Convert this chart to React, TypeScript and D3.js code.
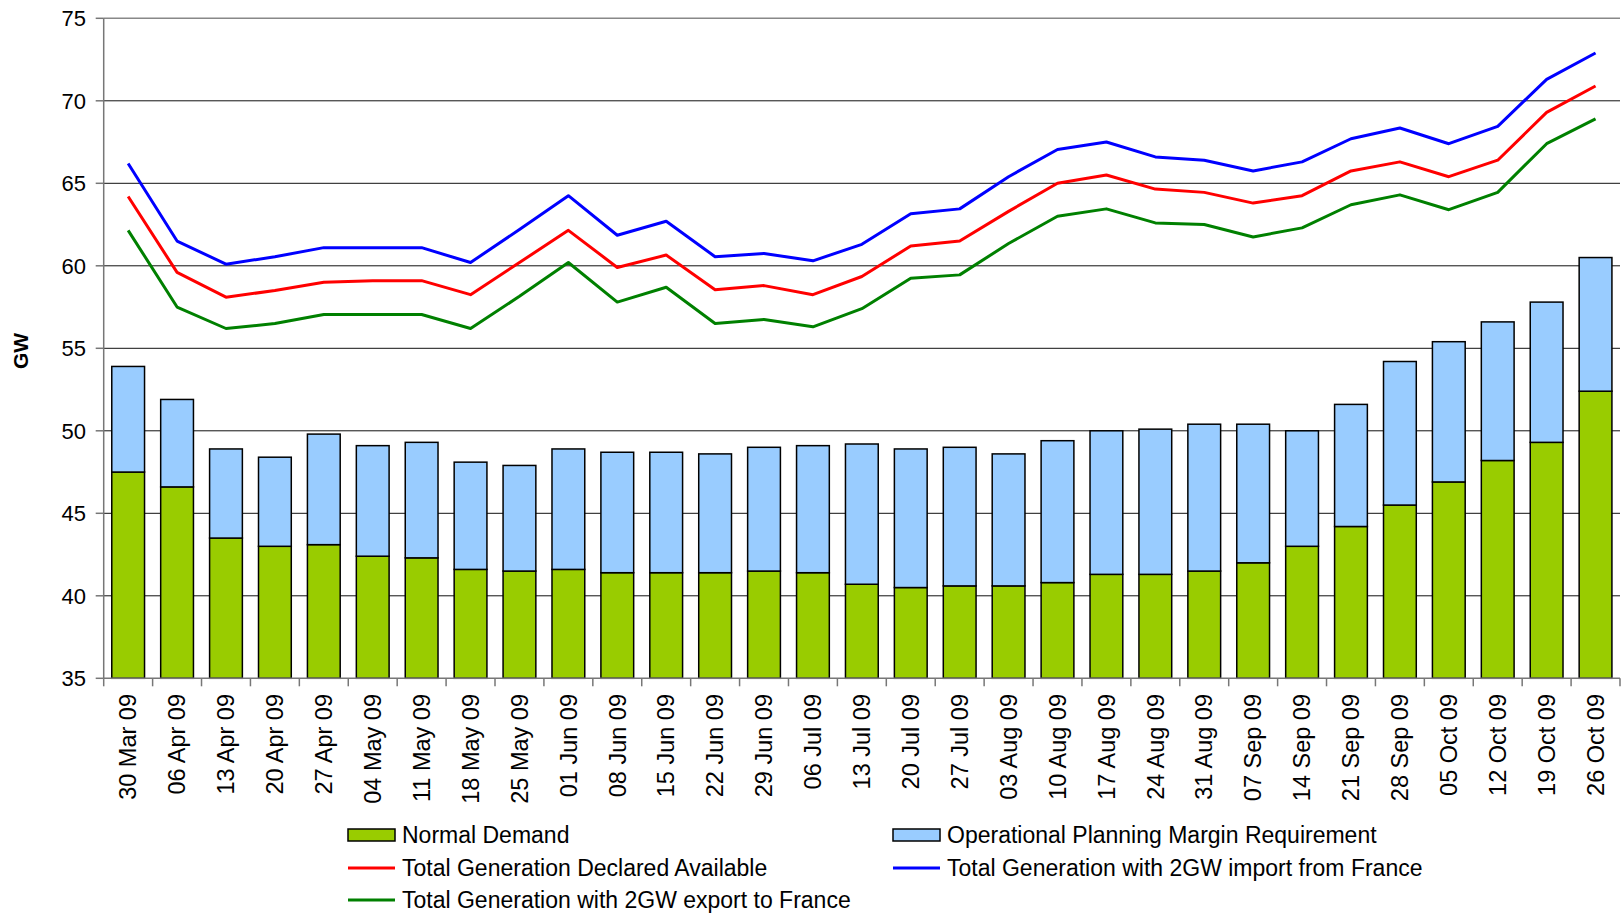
import * as d3 from "d3";
import { useEffect, useRef } from "react";

const categories = [
  "30 Mar 09", "06 Apr 09", "13 Apr 09", "20 Apr 09", "27 Apr 09", "04 May 09",
  "11 May 09", "18 May 09", "25 May 09", "01 Jun 09", "08 Jun 09", "15 Jun 09",
  "22 Jun 09", "29 Jun 09", "06 Jul 09", "13 Jul 09", "20 Jul 09", "27 Jul 09",
  "03 Aug 09", "10 Aug 09", "17 Aug 09", "24 Aug 09", "31 Aug 09", "07 Sep 09",
  "14 Sep 09", "21 Sep 09", "28 Sep 09", "05 Oct 09", "12 Oct 09", "19 Oct 09",
  "26 Oct 09",
];

const normalDemand = [
  47.5, 46.6, 43.5, 43.0, 43.1, 42.4, 42.3, 41.6, 41.5, 41.6, 41.4, 41.4, 41.4,
  41.5, 41.4, 40.7, 40.5, 40.6, 40.6, 40.8, 41.3, 41.3, 41.5, 42.0, 43.0, 44.2,
  45.5, 46.9, 48.2, 49.3, 52.4,
];

const planningMargin = [
  6.4, 5.3, 5.4, 5.4, 6.7, 6.7, 7.0, 6.5, 6.4, 7.3, 7.3, 7.3, 7.2, 7.5, 7.7,
  8.5, 8.4, 8.4, 8.0, 8.6, 8.7, 8.8, 8.9, 8.4, 7.0, 7.4, 8.7, 8.5, 8.4, 8.5, 8.1,
];

const declaredAvailable = [
  64.2, 59.6, 58.1, 58.5, 59.0, 59.1, 59.1, 58.25, 60.2, 62.15, 59.9, 60.65,
  58.55, 58.8, 58.25, 59.35, 61.2, 61.5, 63.3, 65.0, 65.5, 64.65, 64.45, 63.8,
  64.25, 65.75, 66.3, 65.4, 66.4, 69.3, 70.9,
];

const importFrance = [
  66.2, 61.5, 60.1, 60.55, 61.1, 61.1, 61.1, 60.2, 62.2, 64.25, 61.85, 62.7,
  60.55, 60.75, 60.3, 61.3, 63.15, 63.45, 65.4, 67.05, 67.5, 66.6, 66.4, 65.75,
  66.3, 67.7, 68.35, 67.4, 68.45, 71.3, 72.9,
];

const exportFrance = [
  62.15, 57.5, 56.2, 56.5, 57.05, 57.05, 57.05, 56.2, 58.15, 60.2, 57.8, 58.7,
  56.5, 56.75, 56.3, 57.4, 59.25, 59.45, 61.35, 63.0, 63.45, 62.6, 62.5, 61.75,
  62.3, 63.7, 64.3, 63.4, 64.45, 67.4, 68.9,
];

const yTicks = [35, 40, 45, 50, 55, 60, 65, 70, 75];

const FONT = "'Liberation Sans', Arial, sans-serif";

const App: React.FC = () => {
  const ref = useRef<HTMLDivElement | null>(null);

  useEffect(() => {
    if (!ref.current) return;
    d3.select(ref.current).selectAll("*").remove();

    const W = 1621;
    const H = 915;
    const left = 103.7;
    const right = 1620;
    const top = 18.3;
    const bottom = 678.3;

    const svg = d3
      .select(ref.current)
      .append("svg")
      .attr("width", W)
      .attr("height", H)
      .style("font-family", FONT);

    const x = d3
      .scaleBand<string>()
      .domain(categories)
      .range([left, right])
      .paddingInner(0.33)
      .paddingOuter(0.165);

    const y = d3.scaleLinear().domain([35, 75]).range([bottom, top]);

    const cx = (c: string) => (x(c) ?? 0) + x.bandwidth() / 2;
    const step = x.step();

    // grid lines
    svg
      .append("g")
      .selectAll("line")
      .data(yTicks.filter((t) => t > 35))
      .join("line")
      .attr("x1", left)
      .attr("x2", right)
      .attr("y1", (d) => y(d))
      .attr("y2", (d) => y(d))
      .attr("stroke", (d) => (d === 75 ? "#888" : "#111"))
      .attr("stroke-width", (d) => (d === 75 ? 1.5 : 1));

    // stacked bars
    const rows = categories.map((c, i) => ({
      cat: c,
      demand: normalDemand[i],
      margin: planningMargin[i],
    }));
    const stack = d3.stack<(typeof rows)[number]>().keys(["demand", "margin"]);
    const series = stack(rows);
    const fills = ["#99CC00", "#99CCFF"];

    series.forEach((s, k) => {
      svg
        .append("g")
        .selectAll("rect")
        .data(s)
        .join("rect")
        .attr("x", (d) => x(d.data.cat) ?? 0)
        .attr("width", x.bandwidth())
        .attr("y", (d) => y(Math.max(d[1], 35)))
        .attr("height", (d) => y(Math.max(d[0], 35)) - y(d[1]))
        .attr("fill", fills[k])
        .attr("stroke", "#000")
        .attr("stroke-width", 1.5);
    });

    // lines
    const lineSeries = [
      { values: exportFrance, color: "#008000" },
      { values: declaredAvailable, color: "#FF0000" },
      { values: importFrance, color: "#0000FF" },
    ];
    const line = d3
      .line<number>()
      .x((_, i) => cx(categories[i]))
      .y((d) => y(d));
    lineSeries.forEach((ls) => {
      svg
        .append("path")
        .datum(ls.values)
        .attr("fill", "none")
        .attr("stroke", ls.color)
        .attr("stroke-width", 3)
        .attr("stroke-linejoin", "round")
        .attr("d", line);
    });

    // axes
    svg
      .append("line")
      .attr("x1", left)
      .attr("x2", left)
      .attr("y1", top)
      .attr("y2", bottom)
      .attr("stroke", "#777")
      .attr("stroke-width", 1.5);
    svg
      .append("line")
      .attr("x1", left)
      .attr("x2", right)
      .attr("y1", bottom)
      .attr("y2", bottom)
      .attr("stroke", "#777")
      .attr("stroke-width", 1.5);

    // y ticks and labels
    const yAxis = svg.append("g");
    yAxis
      .selectAll("line")
      .data(yTicks)
      .join("line")
      .attr("x1", left - 8)
      .attr("x2", left)
      .attr("y1", (d) => y(d))
      .attr("y2", (d) => y(d))
      .attr("stroke", "#777")
      .attr("stroke-width", 1.5);
    yAxis
      .selectAll("text")
      .data(yTicks)
      .join("text")
      .attr("x", 86)
      .attr("y", (d) => y(d))
      .attr("dy", "0.35em")
      .attr("text-anchor", "end")
      .attr("font-size", 22)
      .attr("fill", "#000")
      .text((d) => d);

    // x ticks and labels
    const xAxis = svg.append("g");
    xAxis
      .selectAll("line")
      .data(d3.range(categories.length + 1))
      .join("line")
      .attr("x1", (i) => left + i * step)
      .attr("x2", (i) => left + i * step)
      .attr("y1", bottom)
      .attr("y2", bottom + 8)
      .attr("stroke", "#777")
      .attr("stroke-width", 1.5);
    xAxis
      .selectAll("text")
      .data(categories)
      .join("text")
      .attr("transform", (c) => `translate(${cx(c)},694) rotate(-90)`)
      .attr("dy", "0.35em")
      .attr("text-anchor", "end")
      .attr("font-size", 23.5)
      .attr("fill", "#000")
      .text((c) => c);

    // y title
    svg
      .append("text")
      .attr("transform", `translate(21,351) rotate(-90)`)
      .attr("dy", "0.35em")
      .attr("text-anchor", "middle")
      .attr("font-size", 21)
      .attr("font-weight", "bold")
      .text("GW");

    // legend
    const legendItems = [
      { label: "Normal Demand", kind: "rect", color: "#99CC00", lx: 348, ly: 835 },
      { label: "Operational Planning Margin Requirement", kind: "rect", color: "#99CCFF", lx: 893, ly: 835 },
      { label: "Total Generation Declared Available", kind: "line", color: "#FF0000", lx: 348, ly: 868 },
      { label: "Total Generation with 2GW import from France", kind: "line", color: "#0000FF", lx: 893, ly: 868 },
      { label: "Total Generation with 2GW export to France", kind: "line", color: "#008000", lx: 348, ly: 900 },
    ];
    const lg = svg.append("g");
    legendItems.forEach((it) => {
      if (it.kind === "rect") {
        lg.append("rect")
          .attr("x", it.lx)
          .attr("y", it.ly - 6)
          .attr("width", 47)
          .attr("height", 12)
          .attr("fill", it.color)
          .attr("stroke", "#000")
          .attr("stroke-width", 1.5);
      } else {
        lg.append("line")
          .attr("x1", it.lx)
          .attr("x2", it.lx + 47)
          .attr("y1", it.ly)
          .attr("y2", it.ly)
          .attr("stroke", it.color)
          .attr("stroke-width", 3);
      }
      lg.append("text")
        .attr("x", it.lx + 54)
        .attr("y", it.ly)
        .attr("dy", "0.35em")
        .attr("font-size", 23)
        .attr("fill", "#000")
        .text(it.label);
    });
  }, []);

  return <div ref={ref} style={{ position: "absolute", left: 0, top: 0 }} />;
};

export default App;
